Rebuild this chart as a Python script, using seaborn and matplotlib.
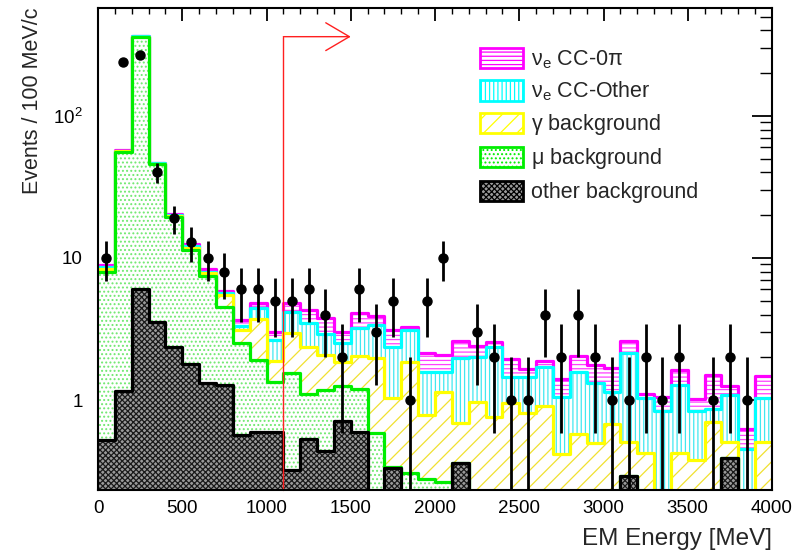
import numpy as np
import pandas as pd
import matplotlib
matplotlib.use("Agg")
import matplotlib.pyplot as plt
import matplotlib.ticker as mticker
from matplotlib.patches import Patch
from matplotlib.transforms import blended_transform_factory
import seaborn as sns

# ---------------- data (100 MeV bins, 0-4000 MeV) ----------------
bin_edges = list(range(0, 4001, 100))
bin_centers = np.arange(50, 4000, 100)

other_bkg = [0.52, 1.16, 6.0, 3.56, 2.37, 1.78, 1.31, 1.27, 0.57, 0.60,
             0.60, 0.32, 0.53, 0.44, 0.71, 0.60, 0, 0.33, 0, 0,
             0, 0.36, 0, 0, 0, 0, 0, 0, 0, 0,
             0, 0.29, 0, 0, 0, 0, 0, 0.39, 0, 0]
mu_bkg = [7.48, 54.8, 356, 42.1, 17.1, 9.52, 6.16, 3.23, 1.96, 1.31,
          0.73, 1.24, 0.57, 0.74, 0.54, 0.59, 0.59, 0.01, 0.306, 0.28,
          0.265, 0, 0, 0, 0, 0, 0, 0, 0, 0,
          0, 0, 0, 0, 0, 0, 0, 0, 0, 0]
gamma_bkg = [0.38, 0.3, 0.5, 0.3, 0.3, 0.4, 0.33, 0.99, 0.58, 1.79,
             0.56, 1.42, 1.27, 0.89, 0.61, 0.85, 1.40, 0.69, 1.55, 0.50,
             0.875, 0.33, 0.97, 0.76, 0.95, 0.81, 0.91, 0.417, 0.576, 0.50,
             0.68, 0.22, 0.425, 0.15, 0.425, 0.38, 0.70, 0.12, 0.10, 0.51]
nue_other = [0.29, 0.5, 0.5, 0.4, 0.4, 0.5, 0.2, 0.2, 0.21, 0.72,
             0.75, 1.20, 1.13, 0.85, 0.67, 1.16, 1.38, 1.32, 1.25, 0.80,
             0.44, 1.28, 1.05, 1.59, 0.51, 0.65, 0.81, 0.63, 1.00, 0.81,
             0.46, 1.64, 0.615, 0.69, 0.845, 0.46, 0.17, 0.57, 0.35, 0.52]
nue_0pi = [0.26, 0.5, 0.5, 0.3, 0.3, 0.3, 0.3, 0.2, 0.34, 0.42,
           0.39, 0.66, 0.80, 0.84, 0.50, 0.91, 0.53, 0.76, 0.14, 0.57,
           0.48, 0.63, 0.38, 0.23, 0.49, 0.18, 0.17, 0.37, 0.46, 0.45,
           0.55, 0.45, 0.07, 0.21, 0.36, 0.17, 0.63, 0.17, 0.17, 0.45]
data_counts = [10, 241, 269, 40, 19, 13, 10, 8, 6, 6,
               5, 5, 6, 4, 2, 6, 3, 5, 1, 5,
               10, 0, 3, 2, 1, 1, 4, 2, 4, 2,
               1, 1, 2, 1, 2, 0, 1, 2, 1, 0]

labels = [r"$\mathregular{\nu_{e}}$ CC-0$\mathregular{\pi}$",
          r"$\mathregular{\nu_{e}}$ CC-Other",
          r"$\mathregular{\gamma}$ background",
          r"$\mathregular{\mu}$ background",
          "other background"]
cut_value = 1100
arrow_end = 1500

# ---------------- style ----------------
sns.set_style("white")
plt.rcParams["font.family"] = ["Liberation Sans", "DejaVu Sans"]
plt.rcParams["mathtext.fontset"] = "custom"
plt.rcParams["mathtext.rm"] = "Liberation Sans"
plt.rcParams["mathtext.it"] = "Liberation Sans:italic"
plt.rcParams["mathtext.bf"] = "Liberation Sans:bold"
plt.rcParams["hatch.linewidth"] = 0.9

fig = plt.figure(figsize=(7.94, 5.52), dpi=100)
ax = fig.add_axes([98 / 794, 1 - 490 / 552, 674 / 794, 482 / 552])

# stacked components, bottom -> top
components = [other_bkg, mu_bkg, gamma_bkg, nue_other, nue_0pi]
cum = np.cumsum(np.array(components, dtype=float), axis=0)

# style for each layer, bottom -> top
line_colors = ["black", "#00ee00", "#ffff00", "#00ffff", "#ff00ff"]
hatch_colors = ["#1a1a1a", "#6fe86f", "#f0e030", "#40e8f0", "#ff40ff"]
face_colors = ["#9a9a9a", "white", "white", "white", "white"]
hatches = ["xxxxxx", "....", "//", "||||", "----"]

# draw from the top of the stack down (ROOT THStack style)
z = 1.0
for i in reversed(range(5)):
    df = pd.DataFrame({"E": bin_centers, "w": cum[i]})
    sns.histplot(data=df, x="E", weights="w", bins=bin_edges, element="step",
                 fill=True, facecolor=face_colors[i], edgecolor=hatch_colors[i],
                 hatch=hatches[i], linewidth=0, alpha=1, ax=ax, zorder=z)
    sns.histplot(data=df, x="E", weights="w", bins=bin_edges, element="step",
                 fill=False, color=line_colors[i], linewidth=2.3, ax=ax,
                 zorder=z + 0.5)
    z += 1.0

# data points
counts = np.array(data_counts, dtype=float)
mask = counts > 0
ax.errorbar(bin_centers[mask], counts[mask], yerr=np.sqrt(counts[mask]),
            fmt="o", color="black", markersize=6.5, elinewidth=2.0,
            capsize=0, zorder=20)

ax.set_yscale("log")
ax.set_xlim(0, 4000)
ax.set_ylim(0.2324, 576)

# cut arrow
trans = blended_transform_factory(ax.transData, ax.transAxes)
ax.plot([cut_value, cut_value], [0, 0.9405], color="#ff2020", lw=1.0,
        transform=trans, zorder=25, clip_on=False)
ax.annotate("", xy=(arrow_end, 0.9405), xytext=(cut_value, 0.9405),
            xycoords=trans, textcoords=trans,
            arrowprops=dict(arrowstyle="->,head_length=0.85,head_width=0.5",
                            color="#ff2020", lw=1.0, shrinkA=0, shrinkB=0,
                            mutation_scale=20),
            zorder=25)

# axes formatting
for s in ax.spines.values():
    s.set_linewidth(1.5)
    s.set_color("black")
    s.set_visible(True)
    s.set_zorder(30)

ax.xaxis.set_major_locator(mticker.MultipleLocator(500))
ax.xaxis.set_minor_locator(mticker.MultipleLocator(100))
ax.yaxis.set_major_locator(mticker.FixedLocator([1, 10, 100]))
ax.yaxis.set_minor_locator(mticker.LogLocator(base=10, subs=np.arange(2, 10), numticks=20))
ax.yaxis.set_minor_formatter(mticker.NullFormatter())
ax.yaxis.set_major_formatter(mticker.FixedFormatter(["1", "10", r"$\mathregular{10^{2}}$"]))

ax.tick_params(which="both", direction="in", top=True, right=True, colors="black")
ax.tick_params(axis="x", which="major", length=9.4, width=1.3, labelsize=13.5, pad=7)
ax.tick_params(axis="x", which="minor", length=4.5, width=1.0)
ax.tick_params(axis="y", which="major", length=14.5, width=1.3, labelsize=13.5, pad=11)
ax.tick_params(axis="y", which="minor", length=8.5, width=1.0)

ax.set_xlabel("EM Energy [MeV]", fontsize=17.5, loc="right")
ax.set_ylabel("Events / 100 MeV/c", fontsize=15.5, loc="top")
ax.xaxis.set_label_coords(1.0, -0.078)
ax.yaxis.set_label_coords(-0.081, 1.0)

# legend
handles = []
for i in reversed(range(5)):
    handles.append(Patch(facecolor=face_colors[i], edgecolor=line_colors[i] if i != 0 else "black",
                         hatch=hatches[i], linewidth=2.0))
leg = fig.legend(handles, labels, loc="upper left",
                 bbox_to_anchor=(480 / 794, 1 - 47.5 / 552),
                 bbox_transform=fig.transFigure, frameon=False, fontsize=15.5,
                 borderpad=0, borderaxespad=0, handlelength=2.0,
                 handleheight=1.1, labelspacing=0.42, handletextpad=0.35)
leg.set_zorder(40)

fig.savefig("out.png", dpi=100)
